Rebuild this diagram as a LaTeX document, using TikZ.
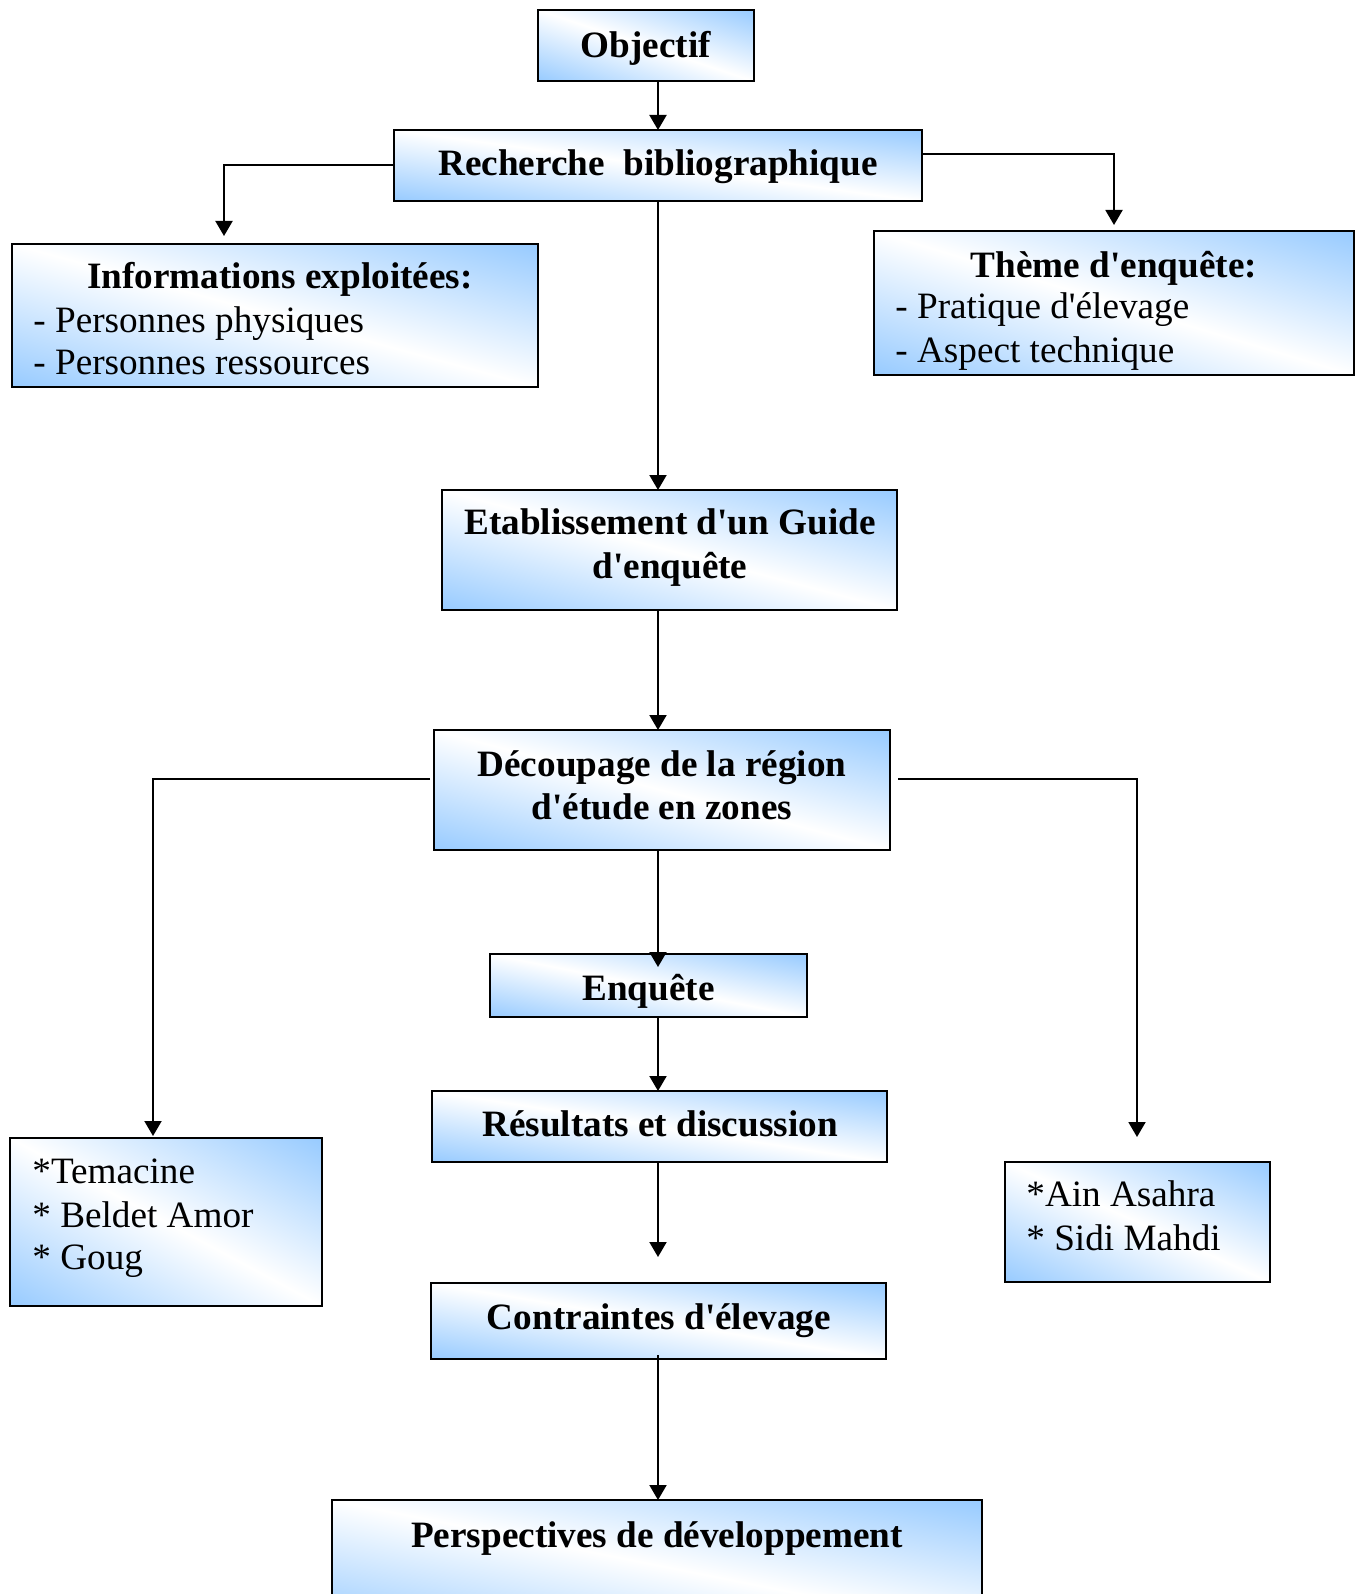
\documentclass[tikz,border=0pt]{standalone}
\usepackage{fontspec}
\setmainfont{Liberation Serif}[Ligatures=TeXOff]
\usetikzlibrary{arrows.meta}
\definecolor{boxblue}{RGB}{150,202,255}
\pgfdeclarehorizontalshading{bwb}{100bp}{color(0bp)=(boxblue); color(14bp)=(boxblue); color(50bp)=(white); color(86bp)=(boxblue); color(100bp)=(boxblue)}
\newcommand{\gbox}[5]{%
  \shade[shading=bwb, shading angle=45, transform canvas={shift={(#2,#3)}, xscale=#4/50, yscale=#5/50}] (-50,-50) rectangle (50,50);
  \node[box, minimum width=#4pt, minimum height=#5pt] (#1) at (#2,#3) {};
}
\begin{document}
\begin{tikzpicture}[x=0.5pt,y=-0.5pt,
  box/.style={rectangle, draw=black, line width=1.2pt, inner sep=0pt, outer sep=0pt},
  lbl/.style={font=\fontsize{18.6}{21.5}\selectfont\bfseries, anchor=base, inner sep=0pt},
  txt/.style={font=\fontsize{18.6}{21.5}\selectfont, anchor=base west, inner sep=0pt},
  conn/.style={line width=1pt, -{Triangle[length=7.5pt,width=8.5pt]}}]
\useasboundingbox (0,0) rectangle (1363,1594);
\clip (0,0) rectangle (1363,1594);
% boxes
\gbox{obj}{646}{45.5}{108}{35.5}
\gbox{rech}{658}{165.5}{264}{35.5}
\gbox{info}{275}{315.5}{263}{71.5}
\gbox{theme}{1114}{303}{240}{72}
\gbox{etab}{669.5}{550}{227.5}{60}
\gbox{dec}{662}{790}{228}{60}
\gbox{enq}{648.5}{985.5}{158.5}{31.5}
\gbox{res}{659.5}{1126.5}{227.5}{35.5}
\gbox{contr}{658.5}{1321}{227.5}{38}
\gbox{persp}{657}{1565}{325}{65}
\gbox{tem}{166}{1222}{156}{84}
\gbox{ain}{1137.5}{1222}{132.5}{60}
% texts
\node[lbl] (tobj) at (646,58) {Objectif};
\node[lbl] (trech) at (658,176) {Recherche\ \ bibliographique};
\node[lbl] (tinfo) at (280,288) {Informations exploitées:};
\node[txt] (tinfo1) at (33,332) {- Personnes physiques};
\node[txt] (tinfo2) at (33,374) {- Personnes ressources};
\node[lbl] (ttheme) at (1114,278) {Thème d'enquête:};
\node[txt] (ttheme1) at (895,318) {- Pratique d'élevage};
\node[txt] (ttheme2) at (895,362) {- Aspect technique};
\node[lbl] (tetab1) at (670,534) {Etablissement d'un Guide};
\node[lbl] (tetab2) at (670,578) {d'enquête};
\node[lbl] (tdec1) at (662,776) {Découpage de la région};
\node[lbl] (tdec2) at (662,819) {d'étude en zones};
\node[lbl] (tenq) at (648.5,1000) {Enquête};
\node[lbl] (tres) at (660,1136) {Résultats et discussion};
\node[lbl] (tcontr) at (659,1329) {Contraintes d'élevage};
\node[lbl] (tpersp) at (657,1547) {Perspectives de développement};
\node[txt] (ttem1) at (32,1183) {*Temacine};
\node[txt] (ttem2) at (32,1227) {* Beldet Amor};
\node[txt] (ttem3) at (32,1269) {* Goug};
\node[txt] (tain1) at (1026,1206) {*Ain Asahra};
\node[txt] (tain2) at (1026,1250) {* Sidi Mahdi};
% arrow end coordinates
\coordinate (infoarr) at (224,236);
\coordinate (themearr) at (1114,225);
\coordinate (temarr) at (153,1136);
\coordinate (ainarr) at (1137,1137);
% connectors
\draw[conn] (obj.south -| rech.north) -- (rech.north);
\draw[conn] (rech.west) -| (infoarr);
\draw[conn] ([yshift=5.5pt]rech.east) -| (themearr);
\draw[conn] (rech.south) -- (rech.south |- etab.north);
\draw[conn] (etab.south -| rech.south) -- (dec.north -| rech.south);
\draw[conn] ([xshift=-2pt,yshift=5.5pt]dec.west) -| (temarr);
\draw[conn] ([xshift=4pt,yshift=5.5pt]dec.east) -| (ainarr);
\draw[conn] (dec.south -| rech.south) -- ([yshift=-6.5pt]enq.north -| rech.south);
\draw[conn] (enq.south -| rech.south) -- (res.north -| rech.south);
\draw[conn] (res.south -| rech.south) -- ([yshift=13pt]contr.north -| rech.south);
\draw[conn] ([yshift=2pt]contr.south -| rech.south) -- (persp.north -| rech.south);
\end{tikzpicture}
\end{document}
